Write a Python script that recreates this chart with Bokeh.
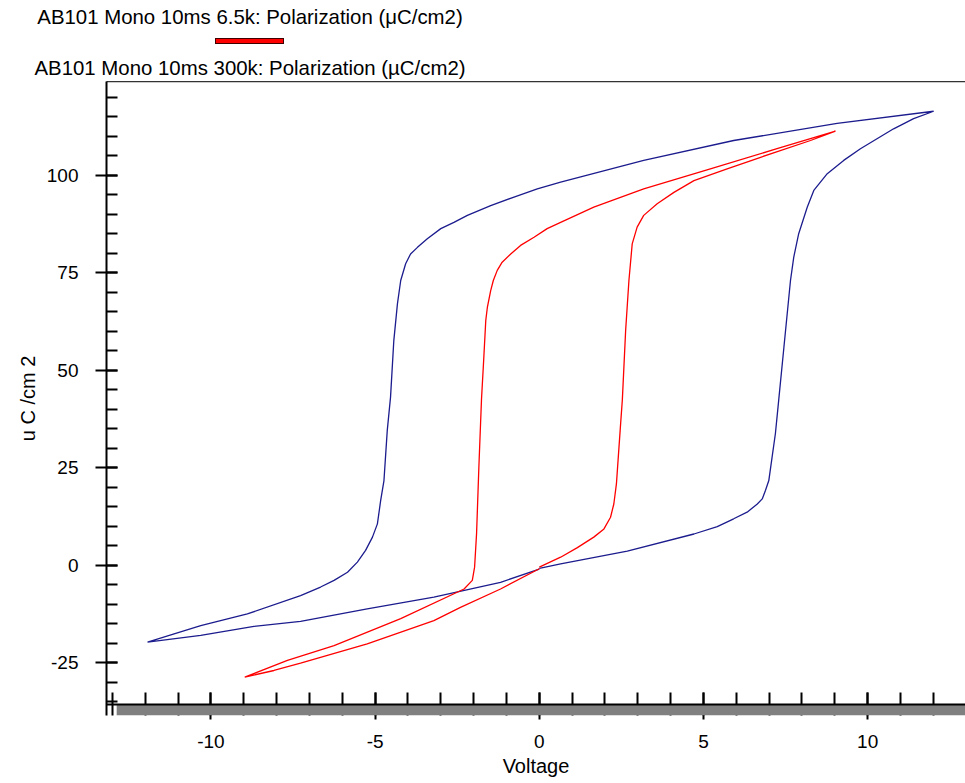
from bokeh.plotting import figure
from bokeh.layouts import column
from bokeh.models import (LinearAxis, SingleIntervalTicker, FixedTicker, BoxAnnotation, Span,
                          PrintfTickFormatter, Div)
from bokeh.embed import file_html
from bokeh.resources import INLINE

# ---------------- data ----------------
series_names = ["AB101 Mono 10ms 6.5k: Polarization (\u03bcC/cm2)",
                "AB101 Mono 10ms 300k: Polarization (\u00b5C/cm2)"]
series_colors = ["#ff0000", "#1c1c8e"]

# 300k loop (blue)
blue_v = [0.0, 0.65, 2.68, 4.71, 5.42, 5.92, 6.33, 6.64, 6.79, 6.89, 6.99, 7.09, 7.19, 7.29,
          7.45, 7.65, 7.75, 7.9, 8.16, 8.36, 8.77, 9.27, 9.78, 10.79, 11.4, 12.01,
          9.07, 5.92, 3.18, 0.65, -0.06, -0.77, -1.48, -2.19, -2.6, -3.0, -3.41, -3.71,
          -3.92, -4.07, -4.22, -4.32, -4.43, -4.53, -4.63, -4.73, -4.83, -4.93, -5.08,
          -5.29, -5.54, -5.84, -6.25, -6.66, -7.27, -8.89, -10.31, -11.12, -11.93,
          -10.31, -8.69, -7.27, -5.24, -3.21, -1.18, 0.0]
blue_p = [-0.8, 0.36, 3.6, 8.0, 9.9, 11.9, 13.6, 15.7, 17.0, 19.2, 21.7, 27.7, 33.7, 42.2,
          55.9, 73.0, 79.0, 85.0, 91.8, 96.1, 100.4, 103.8, 106.8, 111.9, 114.5, 116.4,
          113.3, 108.9, 103.8, 98.2, 96.5, 94.4, 92.2, 89.7, 87.9, 86.3, 83.7, 81.5,
          79.8, 77.3, 73.0, 67.0, 57.6, 43.1, 34.5, 21.7, 16.6, 10.6, 7.2,
          3.8, 0.8, -1.8, -3.9, -5.6, -7.8, -12.5, -15.5, -17.6, -19.7,
          -18.0, -15.7, -14.4, -11.2, -8.2, -4.4, -1.0]

# 6.5k loop (red)
red_v = [0.0, 0.65, 1.16, 1.66, 1.97, 2.17, 2.27, 2.35, 2.40, 2.47, 2.53, 2.63, 2.73, 2.83,
         2.98, 3.18, 3.59, 4.10, 4.71, 5.72, 6.74, 8.26, 9.02,
         7.24, 5.21, 3.18, 1.66, 0.65, 0.24, -0.16, -0.57, -0.87, -1.13, -1.28, -1.40,
         -1.48, -1.58, -1.63, -1.70, -1.76, -1.84, -1.91, -1.97, -2.04, -2.29, -4.22,
         -6.25, -7.67, -8.97,
         -8.08, -7.27, -5.24, -3.21, -2.40, -1.18, 0.0]
red_p = [-0.5, 2.05, 4.5, 7.2, 9.3, 12.3, 15.7, 20.9, 27.0, 35.4, 42.5, 60.2, 73.0, 82.4,
         86.7, 89.7, 92.7, 95.6, 98.6, 101.6, 104.6, 108.9, 111.3,
         106.8, 101.6, 96.5, 91.8, 87.9, 86.3, 84.1, 82.0, 79.8, 77.7, 75.6, 73.0,
         70.4, 66.2, 62.7, 51.6, 42.5, 25.1, 8.1, -0.5, -3.9, -6.1, -13.7,
         -20.6, -24.4, -28.7,
         -27.0, -25.1, -20.2, -14.2, -10.8, -6.1, -0.9]

x_title = "Voltage"
y_title = "u C /cm 2"
x_axis_value = -35.72   # where the black x axis line sits (bottom of the drawing area)

FONT = "Liberation Sans"

# ---------------- legend block (top, HTML) ----------------
legend_html = (
    '<div style="position:relative;width:965px;height:81px;margin:0;padding:0;'
    'font-family:\'Liberation Sans\',Arial,sans-serif;font-size:20.4px;line-height:20px;color:black;">'
    '<div style="position:absolute;left:0;top:7px;width:500px;text-align:center;white-space:nowrap;">'
    + series_names[0] + '</div>'
    '<div style="position:absolute;left:215px;top:38px;width:69px;height:6px;box-sizing:border-box;'
    'background:' + series_colors[0] + ';border:1px solid #400000;"></div>'
    '<div style="position:absolute;left:0;top:58px;width:500px;text-align:center;white-space:nowrap;">'
    + series_names[1] + '</div>'
    '</div>'
)
leg = Div(text=legend_html, width=965, height=81, styles={"margin": "0", "padding": "0"})

# ---------------- main plot ----------------
p = figure(width=965, height=702, x_range=(-13.18, 12.98), y_range=(-38.54, 124.03),
           output_backend="svg", toolbar_location=None,
           min_border_left=106, min_border_right=0, min_border_top=0, min_border_bottom=68,
           x_axis_type=None, y_axis_type=None)
p.outline_line_color = None
p.xgrid.visible = False
p.ygrid.visible = False

# bottom axis (sits under the grey band)
xax = LinearAxis(ticker=SingleIntervalTicker(interval=5, num_minor_ticks=5),
                 formatter=PrintfTickFormatter(format="%d"))
xax.axis_label = x_title
xax.axis_line_color = None
xax.major_tick_line_width = 2
xax.minor_tick_line_width = 2
xax.major_tick_in = 23
xax.major_tick_out = 4
xax.minor_tick_in = 23
xax.minor_tick_out = 0
xax.major_label_standoff = 15
xax.axis_label_standoff = 4
xax.major_label_text_font = FONT
xax.major_label_text_font_size = "19px"
xax.axis_label_text_font = FONT
xax.axis_label_text_font_size = "20px"
xax.axis_label_text_font_style = "normal"
xax.major_label_text_color = "black"
xax.axis_label_text_color = "black"
p.add_layout(xax, "below")

# left axis
yax = LinearAxis(ticker=SingleIntervalTicker(interval=25, num_minor_ticks=5),
                 formatter=PrintfTickFormatter(format="%d"))
yax.axis_label = y_title
yax.axis_line_width = 2
yax.major_tick_line_width = 2
yax.minor_tick_line_width = 2
yax.major_tick_in = 11
yax.major_tick_out = 11
yax.minor_tick_in = 11
yax.minor_tick_out = 0
yax.major_label_standoff = 17
yax.axis_label_standoff = 5
yax.major_label_text_font = FONT
yax.major_label_text_font_size = "19px"
yax.axis_label_text_font = FONT
yax.axis_label_text_font_size = "20px"
yax.axis_label_text_font_style = "normal"
yax.major_label_text_color = "black"
yax.axis_label_text_color = "black"
p.add_layout(yax, "left")

# top frame line
top = LinearAxis(ticker=FixedTicker(ticks=[]))
top.major_tick_line_color = None
top.minor_tick_line_color = None
top.major_label_standoff = 0
top.axis_line_color = "#333333"
top.axis_line_width = 1.5
p.add_layout(top, "above")

# grey shadow band under the x axis, and the black x axis line on top of it
p.add_layout(BoxAnnotation(left=-12.87, top=x_axis_value, fill_color="#808080",
                           fill_alpha=1.0, line_color=None))
p.add_layout(Span(location=x_axis_value, dimension="width", line_color="black",
                  line_width=2))

# curves
p.line(blue_v, blue_p, line_color=series_colors[1], line_width=1.3)
p.line(red_v, red_p, line_color=series_colors[0], line_width=1.3)

layout = column(leg, p, spacing=0)
open("out.html", "w").write(file_html(layout, INLINE))
